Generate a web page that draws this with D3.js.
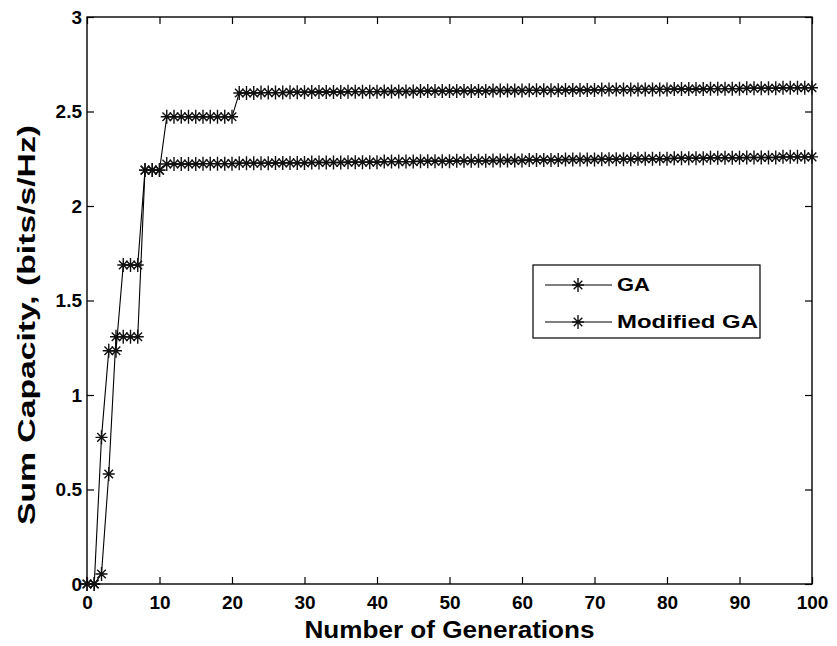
<!DOCTYPE html>
<html>
<head>
<meta charset="utf-8">
<script src="https://cdn.jsdelivr.net/npm/d3@7"></script>
<style>
  html, body { margin: 0; padding: 0; background: #fff; }
  svg { display: block; }
  text { font-family: "Liberation Sans", Arial, Helvetica, sans-serif; font-weight: bold; fill: #000; }
</style>
</head>
<body>
<svg id="chart" width="837" height="646"></svg>
<script>
// Best sum capacity per generation, generations 0..100
const gaCapacity = [
  0, 0, 0.053, 0.582, 1.308, 1.308, 1.308, 1.308, 2.19, 2.19, 2.19,
  2.222, 2.222, 2.222, 2.222, 2.222, 2.224, 2.224, 2.224, 2.224, 2.224,
  2.226, 2.226, 2.226, 2.226, 2.226, 2.228, 2.228, 2.228, 2.228, 2.228,
  2.230, 2.230, 2.230, 2.230, 2.230, 2.232, 2.232, 2.232, 2.232, 2.232,
  2.235, 2.235, 2.235, 2.235, 2.235, 2.237, 2.237, 2.237, 2.237, 2.237,
  2.239, 2.239, 2.239, 2.239, 2.239, 2.241, 2.241, 2.241, 2.241, 2.241,
  2.244, 2.244, 2.244, 2.244, 2.244, 2.246, 2.246, 2.246, 2.246, 2.246,
  2.248, 2.248, 2.248, 2.248, 2.248, 2.250, 2.250, 2.250, 2.250, 2.250,
  2.253, 2.253, 2.253, 2.253, 2.253, 2.255, 2.255, 2.255, 2.255, 2.255,
  2.257, 2.257, 2.257, 2.257, 2.257, 2.260, 2.260, 2.260, 2.260, 2.260
];
const modifiedGaCapacity = [
  0, 0, 0.776, 1.234, 1.234, 1.688, 1.688, 1.688, 2.19, 2.19, 2.19,
  2.472, 2.472, 2.472, 2.472, 2.472, 2.472, 2.472, 2.472, 2.472, 2.472,
  2.598, 2.598, 2.598, 2.600, 2.600, 2.600, 2.600, 2.602, 2.602, 2.602,
  2.603, 2.603, 2.603, 2.603, 2.603, 2.605, 2.605, 2.605, 2.605, 2.605,
  2.606, 2.606, 2.606, 2.606, 2.606, 2.608, 2.608, 2.608, 2.608, 2.608,
  2.609, 2.609, 2.609, 2.609, 2.609, 2.611, 2.611, 2.611, 2.611, 2.611,
  2.612, 2.612, 2.612, 2.612, 2.612, 2.614, 2.614, 2.614, 2.614, 2.614,
  2.616, 2.616, 2.616, 2.616, 2.616, 2.617, 2.617, 2.617, 2.617, 2.617,
  2.619, 2.619, 2.619, 2.619, 2.619, 2.621, 2.621, 2.621, 2.621, 2.621,
  2.623, 2.623, 2.623, 2.623, 2.623, 2.626, 2.626, 2.626, 2.626, 2.626
];
const seriesNames = ["GA", "Modified GA"];
const xTicks = [0, 10, 20, 30, 40, 50, 60, 70, 80, 90, 100];
const yTicks = [0, 0.5, 1, 1.5, 2, 2.5, 3];
const xTitle = "Number of Generations";
const yTitle = "Sum Capacity, (bits/s/Hz)";

const svg = d3.select("#chart");
const box = { left: 87, right: 812, top: 17, bottom: 584 };

const x = d3.scaleLinear().domain([0, 100]).range([box.left, box.right]);
const y = d3.scaleLinear().domain([0, 3]).range([box.bottom, box.top]);

svg.append("rect").attr("width", 837).attr("height", 646).attr("fill", "#fff");

// Axes with inward ticks on all four sides
const tickLen = 7;
const gx = svg.append("g").attr("transform", `translate(0,${box.bottom})`)
  .call(d3.axisBottom(x).tickValues(xTicks).tickFormat(d3.format("d"))
    .tickSizeInner(-tickLen).tickSizeOuter(0).tickPadding(12));
const gy = svg.append("g").attr("transform", `translate(${box.left},0)`)
  .call(d3.axisLeft(y).tickValues(yTicks).tickFormat(d => String(d))
    .tickSizeInner(-tickLen).tickSizeOuter(0).tickPadding(5));
const gxTop = svg.append("g").attr("transform", `translate(0,${box.top})`)
  .call(d3.axisTop(x).tickValues(xTicks).tickFormat("")
    .tickSizeInner(-tickLen).tickSizeOuter(0));
const gyRight = svg.append("g").attr("transform", `translate(${box.right},0)`)
  .call(d3.axisRight(y).tickValues(yTicks).tickFormat("")
    .tickSizeInner(-tickLen).tickSizeOuter(0));

[gx, gy, gxTop, gyRight].forEach(g => {
  g.select(".domain").remove();
  g.selectAll(".tick line").attr("stroke", "#000").attr("stroke-width", 1.2);
  g.selectAll(".tick text").attr("font-size", 19).attr("font-weight", "bold")
    .attr("font-family", "'Liberation Sans', Arial, sans-serif").attr("fill", "#000");
});

svg.append("rect")
  .attr("x", box.left).attr("y", box.top)
  .attr("width", box.right - box.left).attr("height", box.bottom - box.top)
  .attr("fill", "none").attr("stroke", "#000").attr("stroke-width", 1.4);

// Asterisk marker
const star = "M-6,0H6M0,-7V7M-4.3,-4.3L4.3,4.3M-4.3,4.3L4.3,-4.3";

const line = d3.line().x((d, i) => x(i)).y(d => y(d));

[gaCapacity, modifiedGaCapacity].forEach(values => {
  const g = svg.append("g");
  g.append("path").datum(values)
    .attr("d", line).attr("fill", "none")
    .attr("stroke", "#000").attr("stroke-width", 1.1);
  g.selectAll("path.mk").data(values).join("path")
    .attr("class", "mk")
    .attr("transform", (d, i) => `translate(${x(i)},${y(d)})`)
    .attr("d", star).attr("fill", "none")
    .attr("stroke", "#111").attr("stroke-width", 1.4);
});

// Legend
const legend = svg.append("g");
legend.append("rect")
  .attr("x", 533).attr("y", 265).attr("width", 227).attr("height", 73)
  .attr("fill", "#fff").attr("stroke", "#000").attr("stroke-width", 1.2);
const legendRows = [291, 328];
const legendWidths = [33, 141];
seriesNames.forEach((name, i) => {
  const cy = legendRows[i] - 6;
  legend.append("line").attr("x1", 545).attr("x2", 612).attr("y1", cy).attr("y2", cy)
    .attr("stroke", "#000").attr("stroke-width", 1.1);
  legend.append("path").attr("transform", `translate(578,${cy})`).attr("d", star)
    .attr("fill", "none").attr("stroke", "#111").attr("stroke-width", 1.4);
  legend.append("text").attr("x", 617).attr("y", legendRows[i])
    .attr("font-size", 19)
    .attr("textLength", legendWidths[i]).attr("lengthAdjust", "spacingAndGlyphs")
    .text(name);
});

// Axis titles
svg.append("text")
  .attr("x", (box.left + box.right) / 2).attr("y", 638)
  .attr("text-anchor", "middle").attr("font-size", 23)
  .attr("textLength", 290).attr("lengthAdjust", "spacingAndGlyphs")
  .text(xTitle);

svg.append("text")
  .attr("transform", "translate(35,325) rotate(-90)")
  .attr("text-anchor", "middle").attr("font-size", 23)
  .attr("textLength", 400).attr("lengthAdjust", "spacingAndGlyphs")
  .text(yTitle);
</script>
</body>
</html>
